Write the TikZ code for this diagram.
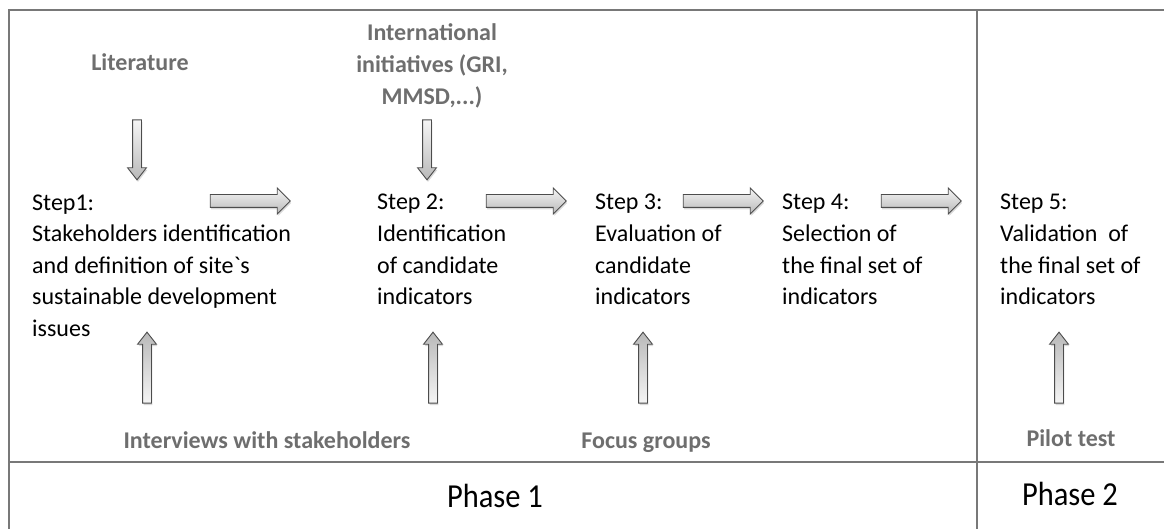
\documentclass[tikz,border=0pt]{standalone}
\usepackage{fontspec}
\setmainfont{Carlito}[Ligatures=TeXOff]
\usetikzlibrary{shapes.arrows,shadows}
\definecolor{framegray}{RGB}{120,120,120}
\definecolor{labelgray}{RGB}{110,110,110}
\tikzstyle{stepnode} = [anchor=base west,align=left,inner sep=0pt,font=\fontsize{24}{31.6}\selectfont]
\tikzset{source/.style={anchor=base,align=center,inner sep=0pt,text=labelgray,font=\fontsize{24}{32}\selectfont\bfseries},
  phase/.style={anchor=base,inner sep=0pt,yscale=1.1,font=\fontsize{30.5}{36}\selectfont},
  block/.style={single arrow,draw=black!70,line width=0.9pt,drop shadow={opacity=0.3,shadow xshift=1pt,shadow yshift=-2pt}},
  hblock/.style={block,minimum height=80pt,minimum width=25pt,inner sep=6pt,single arrow head extend=6.5pt,top color=gray!8,bottom color=gray!55},
  upblock/.style={block,minimum height=71pt,minimum width=18pt,inner sep=4pt,single arrow head extend=5pt,single arrow tip angle=76,shape border rotate=90,top color=gray!55,bottom color=gray!8},
  downblock/.style={block,minimum height=60pt,minimum width=18pt,inner sep=4pt,single arrow head extend=5pt,single arrow tip angle=76,shape border rotate=270,top color=gray!8,bottom color=gray!55}}

\begin{document}
\begin{tikzpicture}[x=1pt,y=-1pt]
    \useasboundingbox (0,0) rectangle (1164,529);
    \clip (0,0) rectangle (1164,529);

    % frame
    \draw [framegray, line width=2.4pt] (9,10) rectangle (1190,560);
    \draw [framegray, line width=2.8pt] (9,462) -- (1190,462);
    \draw [framegray, line width=1.3pt] (977,10) -- (977,560);

    % steps (base = last line)
    \node [stepnode] (step1) at (32,336.4) {Step1:\\Stakeholders identification\\and definition of site`s\\sustainable development\\issues};
    \node [stepnode] (step2) at (377,304.8) {Step 2:\\Identification\\of candidate\\indicators};
    \node [stepnode] (step3) at (595,304.8) {Step 3:\\Evaluation of\\candidate\\indicators};
    \node [stepnode] (step4) at (782,304.8) {Step 4:\\Selection of\\the final set of\\indicators};
    \node [stepnode] (step5) at (1000,304.8) {Step 5:\\Validation~ of\\the final set of\\indicators};

    \node [hblock] (right12) at (247,201) {};
    \node [hblock] (right23) at (523,201) {};
    \node [hblock] (right34) at (720,201) {};
    \node [hblock] (right45) at (918,201) {};

    % sources
    \node [source] (lit) at (140,71) {Literature};
    \node [source] (intl) at (432,105) {International\\initiatives (GRI,\\MMSD,...)};
    \node [downblock] (downlit) at (137,147) {};
    \node [downblock] (downintl) at (427,147) {};

    \node [source] (interviews) at (267,448) {Interviews with stakeholders};
    \node [source] (focus) at (646,448) {Focus groups};
    \node [source] (pilot) at (1071,446) {Pilot test};
    \node [upblock] (up1) at (147,370.5) {};
    \node [upblock] (up2) at (433,370.5) {};
    \node [upblock] (up3) at (643,370.5) {};
    \node [upblock] (up4) at (1059,370.5) {};

    % phases
    \node [phase] (phaseA) at (495,507) {Phase 1};
    \node [phase] (phaseB) at (1070,505) {Phase 2};
\end{tikzpicture}
\end{document}
